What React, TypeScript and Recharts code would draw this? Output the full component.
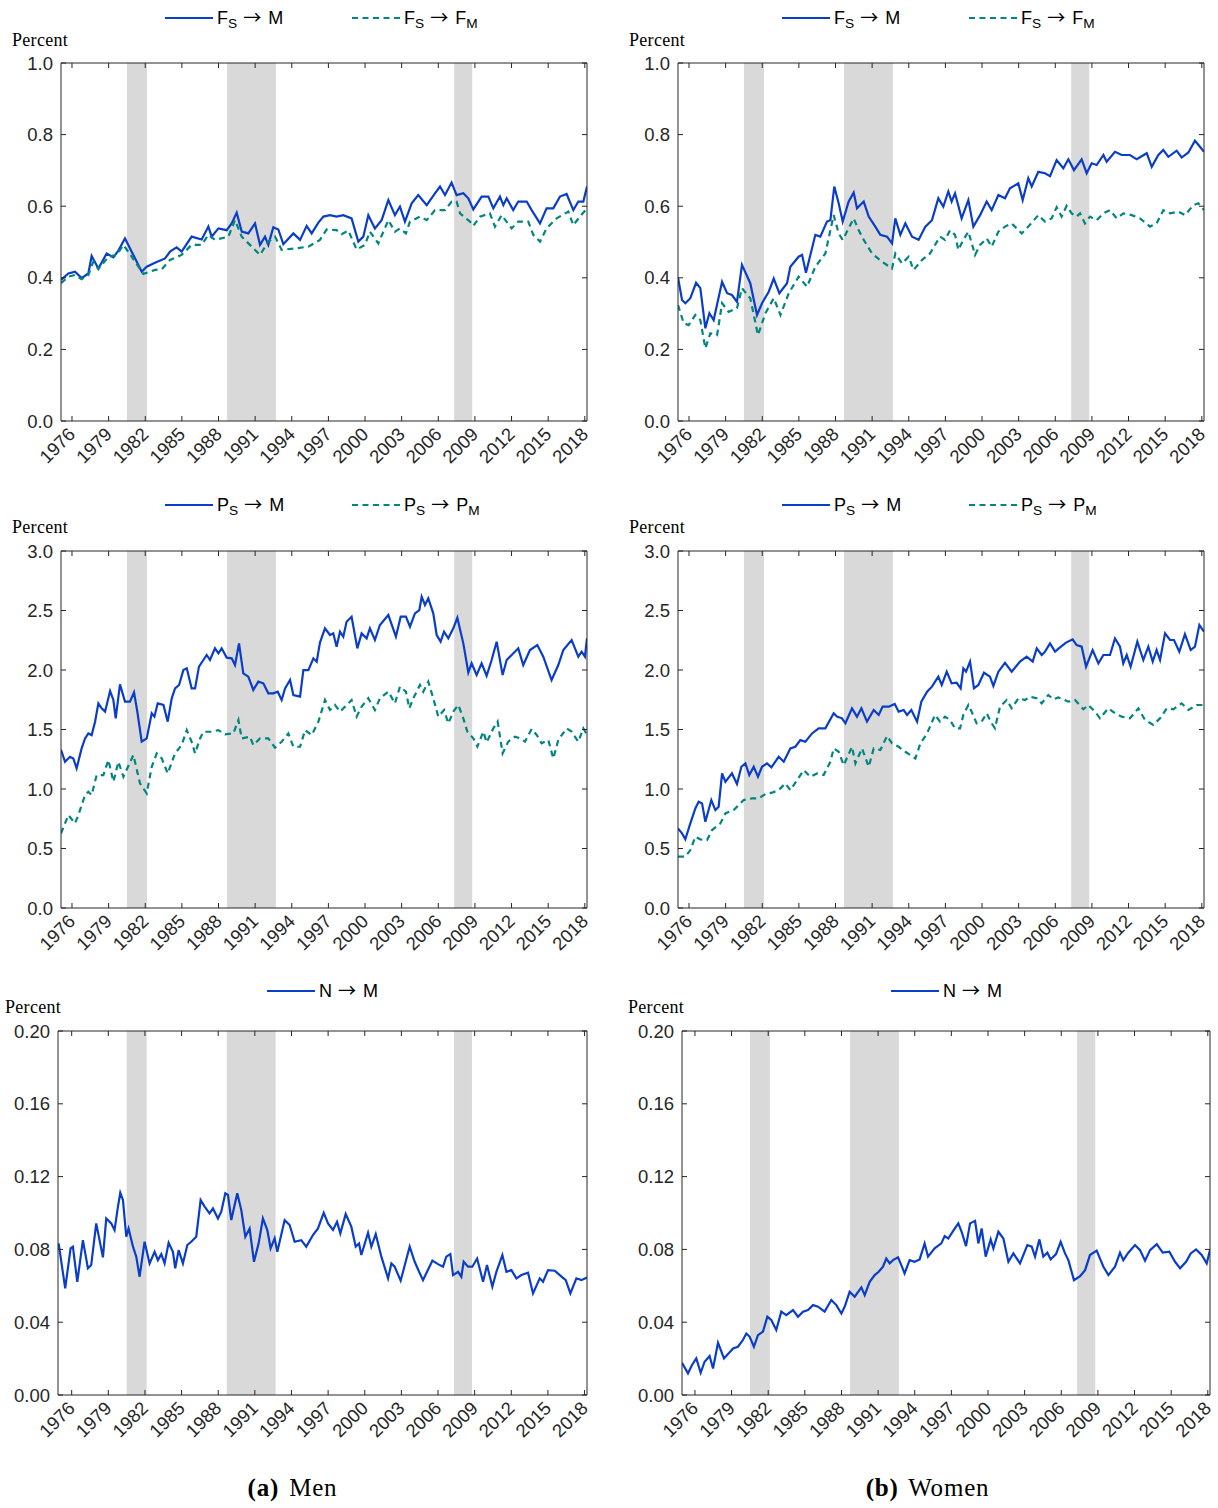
import React from 'react';
import { LineChart, Line, XAxis, YAxis, ReferenceArea } from 'recharts';

type Pt = [number, number];

const yearTicks = [1976, 1979, 1982, 1985, 1988, 1991, 1994, 1997, 2000, 2003, 2006, 2009, 2012, 2015, 2018];
const recessions: Pt[] = [[1980.5, 1982.14], [1988.7, 1992.7], [2007.3, 2008.78]];
const fsTicks = [0, 0.2, 0.4, 0.6, 0.8, 1.0];
const psTicks = [0, 0.5, 1.0, 1.5, 2.0, 2.5, 3.0];
const nTicks = [0, 0.04, 0.08, 0.12, 0.16, 0.2];

const menFsToM: Pt[] = [[1975.1,0.394],[1975.7,0.412],[1976.25,0.417],[1976.79,0.399],[1977.34,0.412],[1977.61,0.461],[1978.16,0.426],[1978.84,0.468],[1979.39,0.457],[1979.8,0.476],[1980.34,0.51],[1980.89,0.473],[1981.71,0.417],[1982.12,0.431],[1982.8,0.442],[1983.62,0.454],[1984.03,0.473],[1984.57,0.485],[1984.98,0.473],[1985.8,0.515],[1986.62,0.507],[1987.17,0.543],[1987.44,0.515],[1987.99,0.538],[1988.67,0.533],[1989.08,0.552],[1989.49,0.582],[1989.9,0.529],[1990.44,0.524],[1990.99,0.552],[1991.4,0.492],[1991.81,0.515],[1992.08,0.492],[1992.49,0.541],[1992.9,0.535],[1993.31,0.494],[1994.13,0.524],[1994.68,0.506],[1995.22,0.545],[1995.63,0.524],[1996.18,0.554],[1996.59,0.571],[1997.13,0.575],[1997.67,0.571],[1998.22,0.575],[1998.9,0.566],[1999.45,0.501],[1999.86,0.515],[2000.27,0.575],[2000.81,0.538],[2001.36,0.561],[2001.91,0.617],[2002.45,0.575],[2002.86,0.599],[2003.27,0.557],[2003.82,0.608],[2004.36,0.631],[2005.05,0.603],[2005.73,0.636],[2006.14,0.655],[2006.55,0.631],[2007.09,0.666],[2007.5,0.631],[2008.05,0.636],[2008.46,0.622],[2008.87,0.591],[2009.55,0.627],[2010.1,0.627],[2010.51,0.594],[2011.05,0.627],[2011.33,0.603],[2011.6,0.622],[2012.14,0.589],[2012.55,0.613],[2013.24,0.613],[2013.65,0.589],[2014.33,0.552],[2014.87,0.594],[2015.42,0.594],[2015.97,0.627],[2016.51,0.634],[2017.06,0.589],[2017.47,0.613],[2017.88,0.613],[2018.18,0.655]];

const menFsToFm: Pt[] = [[1975.1,0.385],[1975.7,0.403],[1976.25,0.408],[1976.79,0.396],[1977.34,0.408],[1977.75,0.445],[1978.16,0.424],[1978.98,0.459],[1979.66,0.464],[1980.21,0.492],[1980.89,0.459],[1981.84,0.411],[1982.8,0.422],[1983.35,0.424],[1984.03,0.45],[1984.98,0.464],[1985.8,0.492],[1986.62,0.492],[1987.17,0.52],[1987.71,0.506],[1988.81,0.515],[1989.35,0.561],[1989.9,0.515],[1990.72,0.487],[1991.4,0.464],[1992.08,0.501],[1992.63,0.515],[1993.17,0.478],[1994.27,0.482],[1995.36,0.487],[1996.31,0.506],[1996.86,0.535],[1997.67,0.533],[1998.08,0.522],[1998.63,0.532],[1999.31,0.479],[1999.99,0.492],[2000.4,0.529],[2001.09,0.496],[2001.91,0.561],[2002.45,0.529],[2002.86,0.538],[2003.35,0.524],[2003.68,0.557],[2004.5,0.571],[2005.05,0.561],[2005.73,0.589],[2006.55,0.589],[2007.09,0.613],[2007.5,0.613],[2007.78,0.58],[2008.59,0.557],[2008.87,0.545],[2009.41,0.571],[2010.23,0.58],[2010.64,0.543],[2011.19,0.575],[2012.01,0.538],[2012.55,0.557],[2013.37,0.557],[2013.78,0.52],[2014.33,0.501],[2014.87,0.538],[2015.69,0.566],[2016.65,0.585],[2017.06,0.547],[2017.6,0.571],[2018.18,0.594]];

const womenFsToM: Pt[] = [[1975.1,0.401],[1975.43,0.338],[1975.7,0.329],[1976.11,0.343],[1976.58,0.386],[1976.93,0.371],[1977.34,0.259],[1977.67,0.301],[1978.02,0.282],[1978.71,0.389],[1979.12,0.357],[1979.52,0.352],[1979.93,0.333],[1980.34,0.436],[1981.02,0.385],[1981.57,0.296],[1981.98,0.329],[1982.53,0.361],[1982.94,0.398],[1983.4,0.357],[1984.03,0.385],[1984.3,0.431],[1984.98,0.459],[1985.26,0.464],[1985.58,0.414],[1986.35,0.52],[1986.76,0.515],[1987.3,0.557],[1987.58,0.561],[1987.9,0.655],[1988.26,0.608],[1988.59,0.557],[1989.08,0.613],[1989.49,0.638],[1989.76,0.594],[1990.31,0.613],[1990.72,0.571],[1991.26,0.543],[1991.67,0.52],[1992.22,0.515],[1992.63,0.496],[1992.9,0.566],[1993.31,0.52],[1993.72,0.552],[1994.27,0.515],[1994.81,0.506],[1995.36,0.543],[1995.9,0.561],[1996.42,0.622],[1996.83,0.599],[1997.24,0.641],[1997.51,0.613],[1997.79,0.636],[1998.33,0.566],[1998.88,0.617],[1999.29,0.543],[1999.84,0.575],[2000.38,0.613],[2000.79,0.589],[2001.34,0.631],[2001.88,0.622],[2002.29,0.65],[2002.97,0.664],[2003.33,0.617],[2003.79,0.678],[2004.07,0.655],[2004.61,0.696],[2005.16,0.692],[2005.57,0.684],[2006.11,0.729],[2006.66,0.706],[2007.07,0.731],[2007.53,0.701],[2008.16,0.731],[2008.57,0.692],[2008.98,0.72],[2009.39,0.715],[2009.94,0.743],[2010.21,0.724],[2010.89,0.752],[2011.44,0.743],[2012.12,0.743],[2012.67,0.731],[2013.49,0.748],[2013.9,0.71],[2014.44,0.743],[2014.85,0.757],[2015.26,0.738],[2015.94,0.755],[2016.35,0.736],[2016.9,0.75],[2017.44,0.783],[2017.85,0.766],[2018.18,0.752]];

const womenFsToFm: Pt[] = [[1975.1,0.324],[1975.57,0.273],[1975.97,0.268],[1976.52,0.296],[1976.93,0.282],[1977.34,0.203],[1977.75,0.245],[1978.3,0.24],[1978.71,0.329],[1979.25,0.305],[1979.93,0.315],[1980.34,0.371],[1981.02,0.343],[1981.65,0.24],[1982.26,0.301],[1982.94,0.343],[1983.49,0.296],[1984.17,0.357],[1984.98,0.403],[1985.67,0.375],[1986.35,0.431],[1987.17,0.468],[1987.85,0.575],[1988.26,0.524],[1988.59,0.506],[1989.49,0.566],[1989.9,0.533],[1990.31,0.506],[1990.99,0.468],[1991.81,0.445],[1992.63,0.426],[1992.9,0.468],[1993.45,0.44],[1993.99,0.459],[1994.4,0.422],[1995.09,0.45],[1995.74,0.468],[1996.56,0.515],[1996.97,0.506],[1997.38,0.533],[1997.79,0.52],[1998.06,0.478],[1998.47,0.506],[1998.88,0.529],[1999.43,0.464],[1999.84,0.492],[2000.38,0.51],[2000.79,0.487],[2001.34,0.529],[2001.88,0.543],[2002.43,0.552],[2003.25,0.524],[2003.79,0.543],[2004.61,0.575],[2005.16,0.557],[2005.7,0.566],[2006.11,0.597],[2006.52,0.571],[2006.93,0.601],[2007.34,0.58],[2007.75,0.571],[2008.03,0.58],[2008.43,0.552],[2008.84,0.571],[2009.39,0.561],[2009.94,0.58],[2010.48,0.589],[2011.03,0.566],[2011.57,0.58],[2012.26,0.575],[2012.94,0.566],[2013.76,0.543],[2014.3,0.552],[2014.85,0.589],[2015.4,0.58],[2016.08,0.585],[2016.62,0.575],[2017.31,0.603],[2017.72,0.608],[2018.18,0.589]];

const menPsToM: Pt[] = [[1975.1,1.33],[1975.43,1.229],[1975.84,1.271],[1976.11,1.257],[1976.38,1.173],[1976.79,1.341],[1977.07,1.425],[1977.34,1.467],[1977.61,1.453],[1977.89,1.566],[1978.16,1.72],[1978.43,1.678],[1978.71,1.65],[1979.12,1.823],[1979.39,1.748],[1979.58,1.594],[1979.93,1.879],[1980.34,1.734],[1980.75,1.734],[1981.08,1.812],[1981.35,1.65],[1981.71,1.398],[1982.12,1.425],[1982.53,1.636],[1982.75,1.608],[1983.02,1.72],[1983.49,1.706],[1983.84,1.566],[1984.17,1.762],[1984.44,1.846],[1984.77,1.874],[1985.12,1.999],[1985.4,2.014],[1985.8,1.846],[1986.08,1.846],[1986.4,2.028],[1986.76,2.084],[1987.03,2.126],[1987.3,2.084],[1987.71,2.182],[1987.99,2.14],[1988.26,2.182],[1988.67,2.104],[1989.08,2.098],[1989.35,2.042],[1989.68,2.224],[1990.03,1.972],[1990.44,1.944],[1990.85,1.832],[1991.26,1.902],[1991.67,1.888],[1992.08,1.804],[1992.49,1.804],[1992.85,1.818],[1993.17,1.748],[1993.45,1.846],[1993.86,1.916],[1994.13,1.79],[1994.68,1.776],[1994.95,1.999],[1995.36,1.999],[1995.77,2.098],[1996.04,2.07],[1996.31,2.23],[1996.72,2.35],[1997.13,2.294],[1997.4,2.308],[1997.67,2.196],[1997.95,2.322],[1998.22,2.28],[1998.49,2.406],[1998.9,2.448],[1999.37,2.182],[1999.72,2.308],[2000.13,2.266],[2000.4,2.35],[2000.81,2.252],[2001.22,2.378],[2001.91,2.462],[2002.53,2.28],[2002.92,2.448],[2003.35,2.448],[2003.68,2.364],[2004.09,2.476],[2004.45,2.504],[2004.64,2.616],[2004.91,2.546],[2005.18,2.602],[2005.59,2.476],[2005.87,2.294],[2006.19,2.238],[2006.47,2.322],[2006.82,2.266],[2007.23,2.35],[2007.56,2.439],[2008.05,2.224],[2008.46,1.98],[2008.73,2.056],[2009.14,1.958],[2009.55,2.056],[2009.96,1.952],[2010.37,2.084],[2010.78,2.238],[2011.27,1.958],[2011.6,2.084],[2012.01,2.126],[2012.55,2.182],[2012.96,2.042],[2013.51,2.168],[2014.11,2.21],[2014.6,2.112],[2015.28,1.916],[2015.83,2.042],[2016.24,2.168],[2016.92,2.252],[2017.47,2.112],[2017.74,2.154],[2018.01,2.112],[2018.18,2.266]];

const menPsToPm: Pt[] = [[1975.1,0.627],[1975.7,0.781],[1976.25,0.711],[1976.52,0.781],[1977.07,0.949],[1977.34,0.977],[1977.61,0.949],[1978.02,1.117],[1978.57,1.117],[1978.98,1.243],[1979.39,1.061],[1979.8,1.229],[1980.21,1.103],[1981.03,1.285],[1981.57,1.047],[1982.12,0.963],[1982.53,1.187],[1982.94,1.299],[1983.35,1.257],[1983.84,1.131],[1984.44,1.299],[1984.98,1.369],[1985.4,1.495],[1985.8,1.397],[1986.08,1.299],[1986.49,1.425],[1986.76,1.481],[1987.44,1.481],[1987.99,1.495],[1988.53,1.459],[1989.22,1.467],[1989.63,1.58],[1989.9,1.425],[1990.58,1.439],[1990.85,1.369],[1991.4,1.425],[1992.08,1.425],[1992.63,1.347],[1993.17,1.397],[1993.72,1.467],[1994.13,1.355],[1994.68,1.355],[1995.09,1.495],[1995.63,1.453],[1996.18,1.566],[1996.72,1.748],[1997.13,1.664],[1997.54,1.706],[1997.95,1.65],[1998.36,1.692],[1998.9,1.748],[1999.31,1.608],[1999.72,1.692],[2000.27,1.762],[2000.81,1.664],[2001.22,1.762],[2001.91,1.818],[2002.45,1.72],[2002.86,1.86],[2003.35,1.818],[2003.63,1.678],[2003.95,1.762],[2004.5,1.874],[2004.77,1.818],[2005.18,1.902],[2005.59,1.762],[2006,1.608],[2006.47,1.664],[2006.82,1.552],[2007.23,1.65],[2007.64,1.706],[2008.05,1.594],[2008.38,1.482],[2008.87,1.426],[2009.2,1.356],[2009.69,1.482],[2009.96,1.392],[2010.51,1.51],[2010.86,1.566],[2011.27,1.3],[2011.73,1.398],[2012.28,1.44],[2012.69,1.426],[2013.1,1.398],[2013.65,1.504],[2014.06,1.454],[2014.46,1.384],[2015.01,1.412],[2015.42,1.257],[2015.83,1.412],[2016.51,1.51],[2016.92,1.482],[2017.47,1.398],[2017.88,1.51],[2018.18,1.454]];

const womenPsToM: Pt[] = [[1975.1,0.669],[1975.43,0.627],[1975.7,0.577],[1976.11,0.711],[1976.52,0.837],[1976.79,0.893],[1977.07,0.879],[1977.34,0.725],[1977.83,0.907],[1978.16,0.823],[1978.43,0.851],[1978.71,1.131],[1978.98,1.061],[1979.52,1.131],[1979.93,1.042],[1980.29,1.187],[1980.62,1.215],[1980.94,1.117],[1981.3,1.187],[1981.65,1.103],[1981.98,1.187],[1982.39,1.215],[1982.75,1.182],[1983.35,1.271],[1983.76,1.229],[1984.3,1.341],[1984.71,1.355],[1985.12,1.411],[1985.53,1.397],[1986.08,1.467],[1986.62,1.51],[1987.17,1.51],[1987.85,1.636],[1988.12,1.608],[1988.53,1.594],[1988.81,1.552],[1989.35,1.678],[1989.76,1.608],[1990.12,1.678],[1990.58,1.566],[1991.13,1.664],[1991.54,1.622],[1991.86,1.692],[1992.36,1.692],[1992.85,1.714],[1993.17,1.65],[1993.58,1.664],[1993.86,1.622],[1994.21,1.664],[1994.68,1.566],[1995.03,1.734],[1995.5,1.818],[1995.9,1.86],[1996.42,1.944],[1996.7,1.874],[1997.11,1.986],[1997.51,1.888],[1997.92,1.893],[1998.25,1.846],[1998.47,2.014],[1998.69,1.986],[1999.02,2.07],[1999.34,1.846],[1999.7,1.874],[2000.16,1.977],[2000.65,1.944],[2000.93,1.866],[2001.34,1.986],[2001.88,2.061],[2002.43,1.986],[2003.11,2.07],[2003.66,2.112],[2004.15,2.07],[2004.48,2.182],[2004.89,2.126],[2005.16,2.154],[2005.57,2.224],[2005.98,2.154],[2006.39,2.19],[2006.88,2.23],[2007.42,2.258],[2007.75,2.21],[2008.16,2.196],[2008.52,2.028],[2009.06,2.168],[2009.53,2.056],[2009.94,2.126],[2010.48,2.126],[2010.89,2.266],[2011.3,2.196],[2011.57,2.056],[2011.85,2.126],[2012.17,2.028],[2012.72,2.238],[2013.21,2.084],[2013.62,2.196],[2013.98,2.07],[2014.3,2.168],[2014.58,2.084],[2014.99,2.308],[2015.4,2.252],[2015.72,2.252],[2016.16,2.154],[2016.62,2.302],[2017.09,2.168],[2017.44,2.196],[2017.8,2.378],[2018.18,2.322]];

const womenPsToPm: Pt[] = [[1975.1,0.431],[1975.7,0.431],[1976.11,0.487],[1976.52,0.599],[1976.93,0.577],[1977.48,0.571],[1977.89,0.655],[1978.57,0.711],[1978.98,0.795],[1979.66,0.823],[1980.07,0.865],[1980.48,0.907],[1981.16,0.921],[1981.71,0.921],[1982.26,0.958],[1982.8,0.969],[1983.35,0.991],[1983.89,1.047],[1984.3,0.991],[1984.85,1.075],[1985.4,1.159],[1985.94,1.103],[1986.49,1.131],[1987.03,1.117],[1987.58,1.229],[1987.85,1.341],[1988.26,1.313],[1988.67,1.201],[1989.35,1.355],[1989.63,1.215],[1990.17,1.341],[1990.72,1.187],[1991.13,1.341],[1991.67,1.327],[1992.22,1.445],[1992.63,1.383],[1993.17,1.355],[1993.72,1.313],[1994.54,1.257],[1994.95,1.383],[1995.5,1.467],[1996.15,1.622],[1996.56,1.566],[1996.97,1.608],[1997.38,1.58],[1997.79,1.51],[1998.2,1.51],[1998.47,1.622],[1998.88,1.706],[1999.15,1.65],[1999.56,1.552],[1999.97,1.566],[2000.38,1.636],[2000.79,1.552],[2001.06,1.51],[2001.47,1.692],[2002.02,1.748],[2002.43,1.678],[2002.98,1.762],[2003.52,1.748],[2003.93,1.776],[2004.48,1.762],[2004.89,1.72],[2005.43,1.79],[2005.84,1.753],[2006.25,1.77],[2006.66,1.753],[2007.07,1.734],[2007.62,1.748],[2008.3,1.67],[2008.71,1.706],[2009.25,1.65],[2009.66,1.594],[2010.34,1.678],[2010.89,1.636],[2011.44,1.608],[2012.12,1.594],[2012.8,1.678],[2013.35,1.58],[2014.03,1.538],[2014.58,1.594],[2015.13,1.678],[2015.67,1.67],[2016.35,1.72],[2016.9,1.664],[2017.58,1.706],[2018.18,1.706]];

const menNToM: Pt[] = [[1974.93,0.0833],[1975.15,0.0732],[1975.47,0.0586],[1975.91,0.0806],[1976.1,0.0815],[1976.46,0.0622],[1976.92,0.0851],[1977.33,0.0696],[1977.6,0.0714],[1978.01,0.0943],[1978.56,0.0756],[1978.83,0.097],[1979.24,0.0943],[1979.51,0.0906],[1979.79,0.1035],[1979.98,0.1111],[1980.2,0.1071],[1980.47,0.087],[1980.66,0.0915],[1981.02,0.0815],[1981.29,0.076],[1981.56,0.065],[1981.97,0.0842],[1982.38,0.0723],[1982.79,0.0787],[1983.06,0.0741],[1983.34,0.0774],[1983.61,0.0723],[1983.94,0.0837],[1984.29,0.0787],[1984.48,0.0696],[1984.76,0.0796],[1985.11,0.0723],[1985.47,0.0824],[1985.79,0.0842],[1986.2,0.087],[1986.56,0.1071],[1986.89,0.1035],[1987.29,0.0998],[1987.57,0.1025],[1987.98,0.097],[1988.25,0.1007],[1988.58,0.1108],[1988.8,0.1099],[1989.07,0.0961],[1989.56,0.1108],[1989.89,0.1016],[1990.22,0.087],[1990.57,0.0915],[1990.93,0.0732],[1991.31,0.0833],[1991.66,0.097],[1992.02,0.0906],[1992.29,0.0806],[1992.62,0.0861],[1992.84,0.0787],[1993.44,0.0961],[1993.85,0.0934],[1994.26,0.0842],[1994.8,0.0851],[1995.21,0.0815],[1995.76,0.0879],[1996.17,0.0915],[1996.64,0.1001],[1996.99,0.0943],[1997.4,0.0907],[1997.73,0.0952],[1998,0.0888],[1998.44,0.0994],[1998.9,0.0925],[1999.26,0.0815],[1999.53,0.0833],[1999.72,0.0769],[2000.27,0.0892],[2000.54,0.0815],[2000.9,0.0884],[2001.36,0.076],[2001.91,0.0641],[2002.18,0.0723],[2002.45,0.0705],[2002.94,0.0628],[2003.35,0.0732],[2003.68,0.0815],[2004.09,0.0732],[2004.45,0.0677],[2004.77,0.0631],[2005.1,0.0677],[2005.54,0.0738],[2006,0.0719],[2006.41,0.0705],[2006.68,0.076],[2007.01,0.0774],[2007.23,0.0659],[2007.64,0.0677],[2007.91,0.065],[2008.1,0.0732],[2008.46,0.0705],[2008.81,0.0705],[2009.2,0.075],[2009.69,0.0622],[2010.01,0.0714],[2010.45,0.0595],[2010.78,0.0677],[2011.27,0.0769],[2011.6,0.0677],[2012.01,0.0686],[2012.42,0.0641],[2012.83,0.0659],[2013.37,0.0672],[2013.78,0.0558],[2014.33,0.0641],[2014.6,0.0622],[2015.01,0.0686],[2015.56,0.0683],[2015.97,0.0659],[2016.46,0.0631],[2016.84,0.0558],[2017.33,0.0641],[2017.74,0.0631],[2018.2,0.0646]];

const womenNToM: Pt[] = [[1974.94,0.0177],[1975.43,0.0119],[1975.76,0.0165],[1976.11,0.0201],[1976.47,0.0122],[1976.79,0.0183],[1977.2,0.0214],[1977.48,0.0146],[1977.89,0.0287],[1978.38,0.0201],[1978.71,0.0225],[1979.12,0.0256],[1979.52,0.0265],[1979.93,0.0302],[1980.21,0.0338],[1980.48,0.032],[1980.83,0.0265],[1981.16,0.0329],[1981.57,0.0348],[1981.93,0.043],[1982.25,0.0412],[1982.66,0.0357],[1983.07,0.0458],[1983.48,0.0439],[1984.03,0.0467],[1984.44,0.043],[1984.85,0.0458],[1985.26,0.0467],[1985.67,0.0494],[1986.08,0.0485],[1986.62,0.0458],[1987.17,0.0522],[1987.58,0.0494],[1987.99,0.0448],[1988.26,0.0485],[1988.67,0.0567],[1989.08,0.054],[1989.63,0.0591],[1989.9,0.0549],[1990.31,0.0622],[1990.72,0.0659],[1991.05,0.0677],[1991.4,0.0705],[1991.67,0.075],[1991.95,0.0723],[1992.22,0.0741],[1992.63,0.0756],[1992.9,0.0714],[1993.17,0.0668],[1993.58,0.0741],[1993.99,0.0732],[1994.4,0.0745],[1994.81,0.0833],[1995.09,0.076],[1995.63,0.0806],[1996.18,0.0833],[1996.45,0.0873],[1996.75,0.086],[1997.16,0.0903],[1997.57,0.0943],[1997.84,0.0897],[1998.2,0.0818],[1998.53,0.0943],[1998.94,0.0957],[1999.21,0.0833],[1999.48,0.0915],[1999.81,0.076],[2000.22,0.0855],[2000.44,0.0805],[2000.85,0.0897],[2001.26,0.086],[2001.67,0.0732],[2002.08,0.0778],[2002.62,0.0723],[2003.22,0.0824],[2003.58,0.0815],[2003.85,0.076],[2004.21,0.0855],[2004.53,0.076],[2004.86,0.0782],[2005.13,0.0745],[2005.57,0.0774],[2005.95,0.0842],[2006.31,0.0778],[2006.58,0.0741],[2007.04,0.0631],[2007.54,0.0653],[2007.95,0.0686],[2008.35,0.0769],[2008.9,0.0793],[2009.45,0.0705],[2009.86,0.0659],[2010.4,0.0705],[2010.81,0.0782],[2011.08,0.0741],[2011.49,0.0782],[2012.04,0.0824],[2012.45,0.0796],[2012.86,0.0738],[2013.27,0.0796],[2013.82,0.0829],[2014.31,0.0782],[2014.85,0.0787],[2015.32,0.0732],[2015.73,0.0696],[2016.22,0.0732],[2016.6,0.0778],[2017.04,0.08],[2017.5,0.0769],[2017.91,0.0723],[2018.18,0.0796]];

const AXIS = '#262626';
const BLUE = '#0a3ec8';
const TEAL = '#00857f';
const GRAY = '#d9d9d9';
const SANS = '"Liberation Sans", Arial, Helvetica, sans-serif';
const SERIF = '"Liberation Serif", "Times New Roman", serif';
const DASH = '6 4.5';
const TICK_FS = 18.5;

const toRows = (pts: Pt[]) => pts.map(([t, v]) => ({ t, v }));

function XTick(props: any) {
  const { x, y, payload } = props;
  const ax = x - 5;
  return (
    <text
      x={ax}
      y={y}
      transform={`rotate(-45 ${ax} ${y})`}
      textAnchor="end"
      dy="0.72em"
      fontSize={TICK_FS}
      fill={AXIS}
      fontFamily={SANS}
    >
      {payload.value}
    </text>
  );
}

const NoTick = () => <g />;

type SeriesDef = { pts: Pt[]; color: string; dashed?: boolean; name: string };

function Panel(props: {
  plotLeft: number; plotTop: number; plotW: number; plotH: number;
  xDomain: [number, number]; yDomain: [number, number]; yTicks: number[];
  yDigits: number; series: SeriesDef[];
}) {
  const { plotLeft, plotTop, plotW, plotH, xDomain, yDomain, yTicks, yDigits, series } = props;
  const ML = 60, MR = 9, MT = 9, XH = 70;
  const w = plotW + ML + MR + 1;
  const h = plotH + MT + 1 + XH;
  return (
    <div style={{ position: 'absolute', left: plotLeft - ML, top: plotTop - MT - 1, width: w, height: h }}>
      <LineChart width={w} height={h} margin={{ top: MT, right: MR, bottom: 0, left: 0 }}>
        <XAxis xAxisId="b" dataKey="t" type="number" domain={xDomain} ticks={yearTicks} interval={0}
          allowDataOverflow height={XH} tick={<XTick />} tickSize={-5} tickMargin={10} stroke={AXIS} />
        <XAxis xAxisId="t" orientation="top" dataKey="t" type="number" domain={xDomain} ticks={yearTicks} interval={0}
          allowDataOverflow height={1} tick={NoTick} tickSize={-5} stroke={AXIS} />
        <YAxis yAxisId="l" type="number" domain={yDomain} ticks={yTicks} interval={0} allowDataOverflow width={ML}
          tickFormatter={(v: number) => v.toFixed(yDigits)} tickSize={-5} tickMargin={13} stroke={AXIS}
          tick={{ fontSize: TICK_FS, fill: AXIS, fontFamily: SANS }} />
        <YAxis yAxisId="r" orientation="right" type="number" domain={yDomain} ticks={yTicks} interval={0} allowDataOverflow
          width={1} tick={NoTick} tickSize={-5} stroke={AXIS} />
        {recessions.map(([a, b], i) => (
          <ReferenceArea key={i} xAxisId="b" yAxisId="l" x1={a} x2={b} y1={yDomain[0]} y2={yDomain[1]}
            fill={GRAY} fillOpacity={1} stroke="none" ifOverflow="hidden" />
        ))}
        {series.map((s) => (
          <Line key={s.name} xAxisId="b" yAxisId="l" data={toRows(s.pts)} dataKey="v" name={s.name}
            type="linear" stroke={s.color} strokeWidth={2.2} dot={false} activeDot={false}
            strokeDasharray={s.dashed ? DASH : undefined} isAnimationActive={false} />
        ))}
      </LineChart>
    </div>
  );
}

const subStyle: React.CSSProperties = { fontSize: '0.76em', verticalAlign: '-0.32em', lineHeight: 0 };
const arrowStyle: React.CSSProperties = {
  fontFamily: '"Noto Sans CJK SC", "DejaVu Sans", sans-serif', fontSize: '1em', margin: '0 7px 0 6px', lineHeight: 0,
};

function LegendEntry({ x, y, dashed, children }: { x: number; y: number; dashed?: boolean; children: React.ReactNode }) {
  return (
    <div style={{ position: 'absolute', left: x, top: y - 13, height: 26, display: 'flex', alignItems: 'center',
      whiteSpace: 'nowrap', fontFamily: SANS, fontSize: 18, color: '#000', lineHeight: '26px' }}>
      <svg width={48} height={6} style={{ marginRight: 4, display: 'block' }}>
        <line x1={0} y1={3} x2={48} y2={3} stroke={dashed ? TEAL : BLUE} strokeWidth={2.2}
          strokeDasharray={dashed ? DASH : undefined} />
      </svg>
      <span>{children}</span>
    </div>
  );
}

function PercentLabel({ x, y }: { x: number; y: number }) {
  return (
    <div style={{ position: 'absolute', left: x, top: y, fontFamily: SERIF, fontSize: 18, letterSpacing: 0.3,
      color: '#000', lineHeight: '18px' }}>
      Percent
    </div>
  );
}

const Arrow = () => <span style={arrowStyle}>→</span>;
const fsM = <>F<sub style={subStyle}>S</sub><Arrow />M</>;
const fsFm = <>F<sub style={subStyle}>S</sub><Arrow />F<sub style={subStyle}>M</sub></>;
const psM = <>P<sub style={subStyle}>S</sub><Arrow />M</>;
const psPm = <>P<sub style={subStyle}>S</sub><Arrow />P<sub style={subStyle}>M</sub></>;
const nM = <>N<Arrow />M</>;

const captionStyle: React.CSSProperties = {
  position: 'absolute', top: 1474, textAlign: 'center', fontFamily: SERIF, fontSize: 25,
  letterSpacing: 0.8, wordSpacing: 3, color: '#000',
};

export default function App() {
  const topDom: [number, number] = [1975.1, 2018.18];
  return (
    <div style={{ position: 'absolute', left: 0, top: 0, width: 1218, height: 1508, background: '#fff', overflow: 'hidden' }}>
      {/* Row 1 */}
      <LegendEntry x={165} y={18}>{fsM}</LegendEntry>
      <LegendEntry x={352} y={18} dashed>{fsFm}</LegendEntry>
      <PercentLabel x={12} y={31} />
      <Panel plotLeft={61} plotTop={63} plotW={526} plotH={358} xDomain={topDom} yDomain={[0, 1]} yTicks={fsTicks} yDigits={1}
        series={[{ pts: menFsToM, color: BLUE, name: 'men-fs-m' }, { pts: menFsToFm, color: TEAL, dashed: true, name: 'men-fs-fm' }]} />

      <LegendEntry x={782} y={18}>{fsM}</LegendEntry>
      <LegendEntry x={969} y={18} dashed>{fsFm}</LegendEntry>
      <PercentLabel x={629} y={31} />
      <Panel plotLeft={678} plotTop={63} plotW={526} plotH={358} xDomain={topDom} yDomain={[0, 1]} yTicks={fsTicks} yDigits={1}
        series={[{ pts: womenFsToM, color: BLUE, name: 'women-fs-m' }, { pts: womenFsToFm, color: TEAL, dashed: true, name: 'women-fs-fm' }]} />

      {/* Row 2 */}
      <LegendEntry x={165} y={505}>{psM}</LegendEntry>
      <LegendEntry x={352} y={505} dashed>{psPm}</LegendEntry>
      <PercentLabel x={12} y={518} />
      <Panel plotLeft={61} plotTop={551} plotW={526} plotH={357} xDomain={topDom} yDomain={[0, 3]} yTicks={psTicks} yDigits={1}
        series={[{ pts: menPsToM, color: BLUE, name: 'men-ps-m' }, { pts: menPsToPm, color: TEAL, dashed: true, name: 'men-ps-pm' }]} />

      <LegendEntry x={782} y={505}>{psM}</LegendEntry>
      <LegendEntry x={969} y={505} dashed>{psPm}</LegendEntry>
      <PercentLabel x={629} y={518} />
      <Panel plotLeft={678} plotTop={551} plotW={526} plotH={357} xDomain={topDom} yDomain={[0, 3]} yTicks={psTicks} yDigits={1}
        series={[{ pts: womenPsToM, color: BLUE, name: 'women-ps-m' }, { pts: womenPsToPm, color: TEAL, dashed: true, name: 'women-ps-pm' }]} />

      {/* Row 3 */}
      <LegendEntry x={267} y={991}>{nM}</LegendEntry>
      <PercentLabel x={5} y={998} />
      <Panel plotLeft={58} plotTop={1031} plotW={529} plotH={364} xDomain={[1974.88, 2018.2]} yDomain={[0, 0.2]} yTicks={nTicks} yDigits={2}
        series={[{ pts: menNToM, color: BLUE, name: 'men-n-m' }]} />

      <LegendEntry x={891} y={991}>{nM}</LegendEntry>
      <PercentLabel x={628} y={998} />
      <Panel plotLeft={682} plotTop={1031} plotW={528} plotH={364} xDomain={[1974.94, 2018.18]} yDomain={[0, 0.2]} yTicks={nTicks} yDigits={2}
        series={[{ pts: womenNToM, color: BLUE, name: 'women-n-m' }]} />

      {/* Captions */}
      <div style={{ ...captionStyle, left: 0, width: 585 }}>
        <b>(a)</b> Men
      </div>
      <div style={{ ...captionStyle, left: 620, width: 615 }}>
        <b>(b)</b> Women
      </div>
    </div>
  );
}
